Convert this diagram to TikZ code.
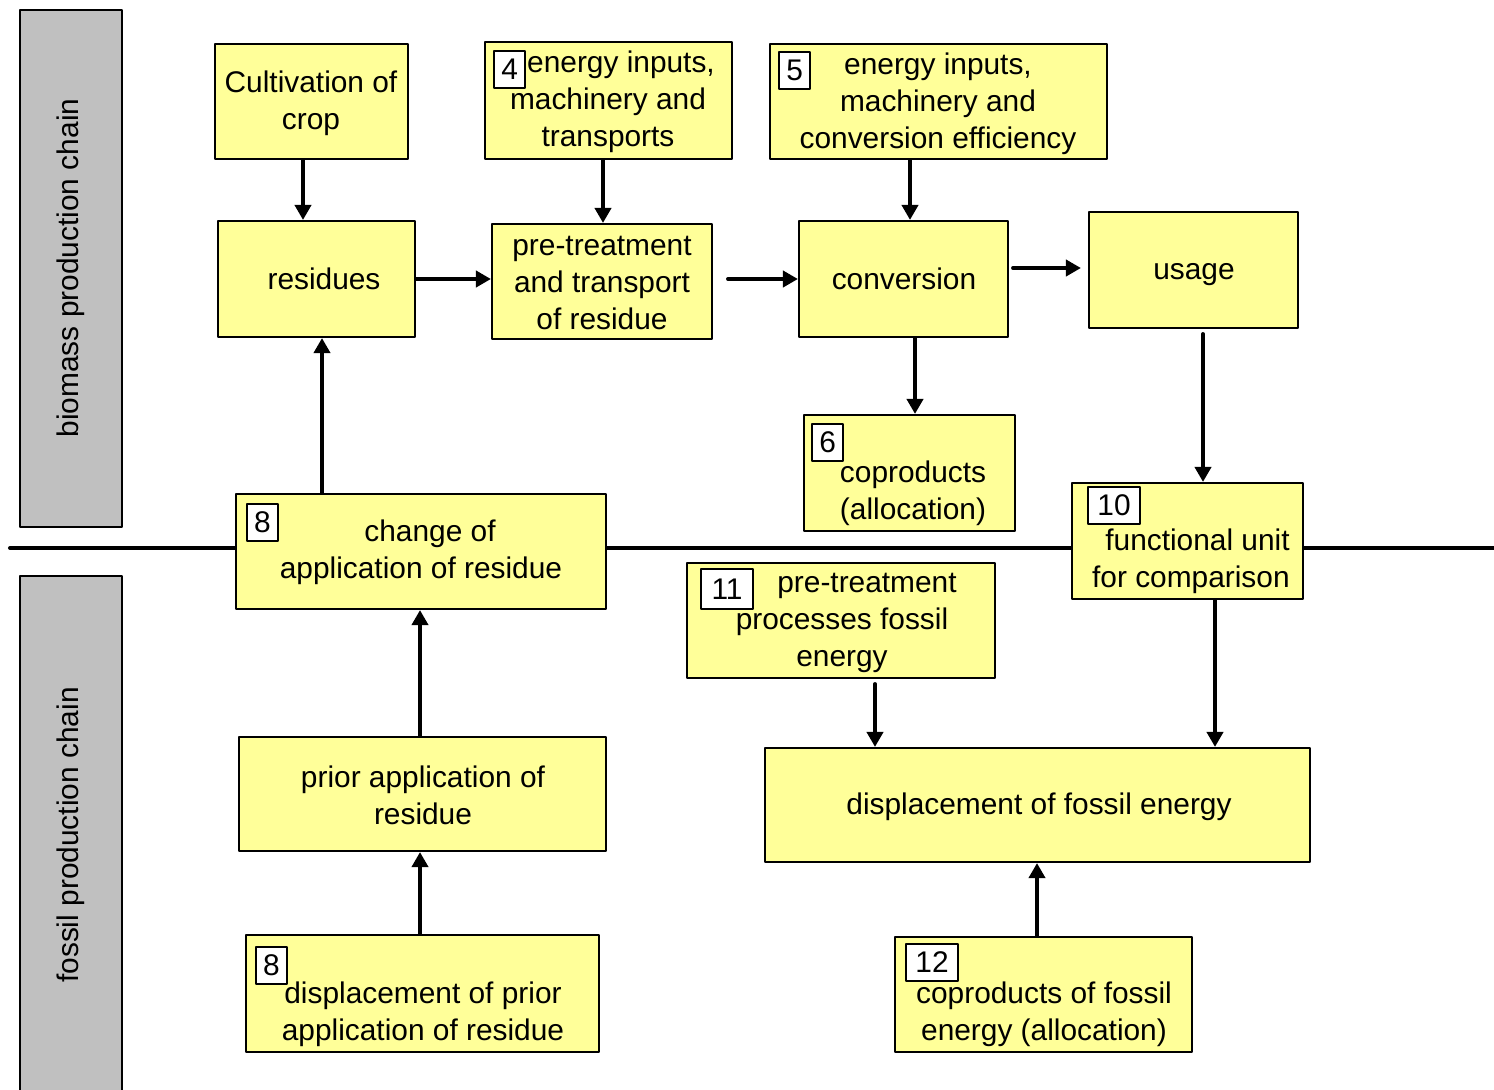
\documentclass[tikz,border=0pt]{standalone}
\usepackage{fontspec}
\setmainfont{Liberation Sans}
\usetikzlibrary{arrows.meta,fit}
\definecolor{boxyellow}{RGB}{255,255,153}
\definecolor{chaingray}{RGB}{192,192,192}

\begin{document}
\begin{tikzpicture}[line cap=round,line join=round,>={Triangle[length=0.3cm,width=0.32cm]},x=0.02cm,y=-0.02cm,
	box/.style={draw,fill=boxyellow,line width=1.2pt,inner sep=0pt},
	chainbox/.style={draw,fill=chaingray,line width=1.2pt,inner sep=0pt},
	txt/.style={align=center,inner sep=0pt,font=\fontsize{17pt}{21pt}\selectfont},
	tag/.style={draw,fill=white,line width=1.2pt,anchor=north west,inner sep=0pt,minimum width=0.62cm,minimum height=0.74cm,font=\fontsize{17pt}{21pt}\selectfont},
	wtag/.style={tag,minimum width=1.04cm},
	flow/.style={->,line width=2.3pt}]
	\useasboundingbox (0,0) rectangle (1494,1089);
	% side bars
	\node[chainbox,fit={(20,10) (122,527)}] (bio) {};
	\node[chainbox,fit={(20,576) (122,1110)}] (fos) {};
	\node[txt,rotate=90] (biolbl) at (71,268) {biomass production chain};
	\node[txt,rotate=90] (foslbl) at (71,835) {fossil production chain};
	% divider
	\coordinate (divl) at (10,548);
	\coordinate (divr) at (1494,548);
	\draw[line width=2.3pt] (divl) -- (divr);
	% biomass chain
	\node[box,fit={(215,44) (408,159)}] (cult) {};
	\node[box,fit={(485,42) (732,159)}] (enfour) {};
	\node[box,fit={(770,44) (1107,159)}] (enfive) {};
	\node[box,fit={(218,221) (415,337)}] (res) {};
	\node[box,fit={(492,224) (712,339)}] (pretr) {};
	\node[box,fit={(799,221) (1008,337)}] (conv) {};
	\node[box,fit={(1089,212) (1298,328)}] (use) {};
	\node[box,fit={(804,415) (1015,531)}] (copr) {};
	\node[box,fit={(236,494) (606,609)}] (chng) {};
	\node[box,fit={(1072,483) (1303,599)}] (func) {};
	\node[txt] (culttxt) at (311,103) {Cultivation of\\crop};
	\node[txt] (enfourtxt) at (608,102) {\hspace*{0.52cm}energy inputs,\\machinery and\\transports};
	\node[txt] (enfivetxt) at (938,104) {energy inputs,\\machinery and\\conversion efficiency};
	\node[txt] (restxt) at (324,279) {residues};
	\node[txt] (pretrtxt) at (602,283) {pre-treatment\\and transport\\of residue};
	\node[txt] (convtxt) at (904,279) {conversion};
	\node[txt] (usetxt) at (1194,275) {usage};
	\node[txt] (coprtxt) at (913,493) {coproducts\\(allocation)};
	\node[txt] (chngtxt) at (421,552) {\hspace*{0.36cm}change of\\application of residue};
	\node[txt,align=right,anchor=east] (functxt) at (1290,561) {functional unit\\for comparison};
	% fossil chain
	\node[box,fit={(687,563) (995,678)}] (fospre) {};
	\node[box,fit={(239,737) (606,851)}] (prior) {};
	\node[box,fit={(765,748) (1310,862)}] (displ) {};
	\node[box,fit={(246,935) (599,1052)}] (dispprior) {};
	\node[box,fit={(895,937) (1192,1052)}] (fosco) {};
	\node[txt] (fospretxt) at (842,623) {\hspace*{1cm}pre-treatment\\processes fossil\\energy};
	\node[txt] (priortxt) at (423,795) {prior application of\\residue};
	\node[txt] (displtxt) at (1039,807) {displacement of fossil energy};
	\node[txt] (disppriortxt) at (423,1014) {displacement of prior\\application of residue};
	\node[txt] (foscotxt) at (1044,1014) {coproducts of fossil\\energy (allocation)};
	% number tags
	\node[tag] (nfour) at (493,50) {4};
	\node[tag] (nfive) at (778,51) {5};
	\node[tag] (nsix) at (811,423) {6};
	\node[tag] (neight) at (246,503) {8};
	\node[wtag] (nten) at (1087,486) {10};
	\node[wtag,minimum height=0.8cm] (neleven) at (700,568) {11};
	\node[wtag] (ntwelve) at (905,943) {12};
	\node[tag] (neightb) at (255,946) {8};
	% arrows
	\draw[flow] (303,0 |- cult.south) -- (303,0 |- res.north);
	\draw[flow] (603,0 |- enfour.south) -- (603,0 |- pretr.north);
	\draw[flow] (910,0 |- enfive.south) -- (910,0 |- conv.north);
	\draw[flow] (res.east) -- (res.east -| pretr.west);
	\draw[flow,shorten <=0.3cm] (conv.west -| pretr.east) -- (conv.west);
	\draw[flow,shorten <=0.08cm,shorten >=0.14cm] (conv.east |- 0,268) -- (use.west |- 0,268);
	\draw[flow] (915,0 |- conv.south) -- (915,0 |- copr.north);
	\draw[flow,shorten <=0.1cm] (1203,0 |- use.south) -- (1203,0 |- func.north);
	\draw[flow] (322,0 |- chng.north) -- (322,0 |- res.south);
	\draw[flow] (420,0 |- prior.north) -- (420,0 |- chng.south);
	\draw[flow] (420,0 |- dispprior.north) -- (420,0 |- prior.south);
	\draw[flow,shorten <=0.1cm] (875,0 |- fospre.south) -- (875,0 |- displ.north);
	\draw[flow] (1215,0 |- func.south) -- (1215,0 |- displ.north);
	\draw[flow] (1037,0 |- fosco.north) -- (1037,0 |- displ.south);
\end{tikzpicture}
\end{document}
